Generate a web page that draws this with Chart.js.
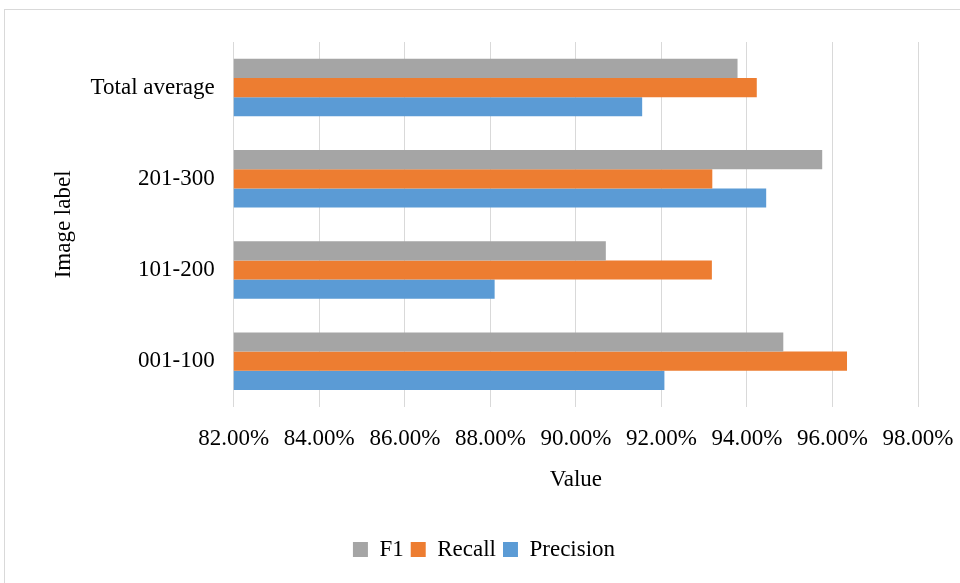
<!DOCTYPE html>
<html>
<head>
<meta charset="utf-8">
<script src="https://cdn.jsdelivr.net/npm/chart.js@4/dist/chart.umd.min.js"></script>
<style>
  body { margin: 0; background: #fff; }
  #frame { position: absolute; left: 4px; top: 9px; width: 1000px; height: 1000px; border: 1px solid #d9d9d9; }
  #barChart { position: absolute; left: 0; top: 0; }
</style>
</head>
<body>
<div id="frame"></div>
<canvas id="barChart" width="960" height="583"></canvas>
<script>
// categories, top to bottom as drawn
const categories = ['Total average', '201-300', '101-200', '001-100'];
// values in percent
const f1 = [93.78, 95.76, 90.70, 94.85];
const recall = [94.23, 93.19, 93.18, 96.34];
const precision = [91.55, 94.45, 88.10, 92.07];
const xTicks = [82, 84, 86, 88, 90, 92, 94, 96, 98];

const serif = 'Liberation Serif';
Chart.defaults.font.family = serif;
Chart.defaults.color = '#000';

const ctx = document.getElementById('barChart').getContext('2d');
new Chart(ctx, {
    type: 'bar',
    data: {
        labels: categories,
        datasets: [
            { label: 'F1', data: f1, backgroundColor: '#a5a5a5' },
            { label: 'Recall', data: recall, backgroundColor: '#ed7d31' },
            { label: 'Precision', data: precision, backgroundColor: '#5b9bd5' }
        ]
    },
    options: {
        indexAxis: 'y',
        responsive: false,
        animation: false,
        layout: { padding: { left: 50, top: 42, right: 42, bottom: 12 } },
        datasets: { bar: { categoryPercentage: 0.63, barPercentage: 1.0 } },
        scales: {
            x: {
                min: xTicks[0],
                max: xTicks[xTicks.length - 1],
                afterBuildTicks: (axis) => { axis.ticks = xTicks.map(v => ({ value: v })); },
                ticks: {
                    font: { size: 23 },
                    padding: 0,
                    callback: (v) => Number(v).toFixed(2) + '%'
                },
                // invisible tick marks give the gap under the plot
                grid: { color: '#d9d9d9', drawTicks: true, tickLength: 18, tickColor: 'rgba(0,0,0,0)' },
                border: { display: false },
                title: { display: true, text: 'Value', font: { size: 23 }, padding: { top: 14, bottom: 37 } }
            },
            y: {
                ticks: { font: { size: 23 }, padding: 19 },
                grid: { display: false, drawTicks: false },
                border: { color: '#d9d9d9' },
                title: { display: true, text: 'Image label', font: { size: 23 }, padding: { top: 0, bottom: -6 } }
            }
        },
        plugins: {
            legend: {
                position: 'bottom',
                labels: { boxWidth: 15, boxHeight: 15, font: { size: 23 }, padding: 7 }
            },
            tooltip: { enabled: false }
        }
    }
});
</script>
</body>
</html>
